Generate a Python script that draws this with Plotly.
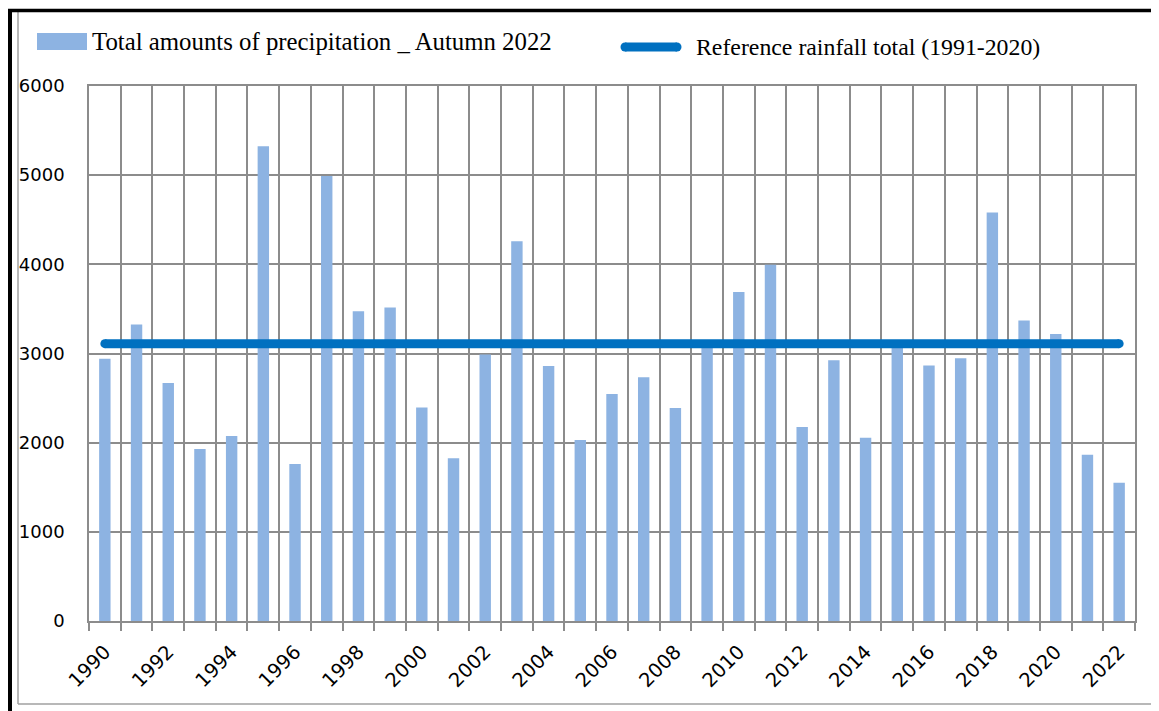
import plotly.graph_objects as go

years = list(range(1990, 2023))
precip = [2940, 3325, 2670, 1930, 2075, 5325, 1760, 4990, 3475, 3515,
          2395, 1825, 2990, 4260, 2860, 2030, 2545, 2735, 2390, 3100,
          3690, 3995, 2175, 2925, 2055, 3100, 2865, 2948, 4580, 3370,
          3220, 1865, 1550]
reference_total = 3110
year_ticks = list(range(1990, 2023, 2))
y_ticks = [0, 1000, 2000, 3000, 4000, 5000, 6000]

bar_name = "Total amounts of precipitation _ Autumn 2022"
line_name = "Reference rainfall total (1991-2020)"

# page body has an 8px margin; work in screen pixels and convert
OFF = 8
W, H = 1159 - OFF, 711 - OFF
PL, PR, PT, PB = 89, 1135, 86, 621   # plot area in screen pixels
L, T = PL - OFF, PT - OFF
R = W - (PR - OFF)
B = H - (PB - OFF)
PW, PH = PR - PL, PB - PT

def px(x):
    return (x - PL) / PW

def py(y):
    return (PB - y) / PH

BAR_COLOR = "#8DB3E2"
LINE_COLOR = "#0070C0"
GRID = "#8c8c8c"

fig = go.Figure()
fig.add_trace(go.Bar(x=years, y=precip, name=bar_name, marker_color=BAR_COLOR,
                     marker_line_width=0, showlegend=False))
fig.add_trace(go.Scatter(x=[years[0], years[-1]], y=[reference_total, reference_total],
                         mode="lines+markers", name=line_name,
                         line=dict(color=LINE_COLOR, width=9),
                         marker=dict(color=LINE_COLOR, size=9, line_width=0),
                         showlegend=False))

shapes = []
# outer frame
shapes.append(dict(type="line", xref="paper", yref="paper", x0=px(18), x1=px(18), y0=py(12), y1=py(704),
                   line=dict(color="#a0a0a0", width=1.5), layer="below"))
shapes.append(dict(type="line", xref="paper", yref="paper", x0=px(18), x1=px(1160), y0=py(704), y1=py(704),
                   line=dict(color="#a0a0a0", width=1.5), layer="below"))
shapes.append(dict(type="line", xref="paper", yref="paper", x0=px(9.5), x1=px(9.5), y0=py(9), y1=py(712),
                   line=dict(color="black", width=5), layer="above"))
shapes.append(dict(type="line", xref="paper", yref="paper", x0=px(7), x1=px(1160), y0=py(10.5), y1=py(10.5),
                   line=dict(color="black", width=3.5), layer="above"))
# legend swatch 1
shapes.append(dict(type="rect", xref="paper", yref="paper", x0=px(37), x1=px(87), y0=py(33), y1=py(50),
                   fillcolor=BAR_COLOR, line_width=0))
# legend swatch 2 (line with round ends)
ly = 47
shapes.append(dict(type="line", xref="paper", yref="paper", x0=px(625), x1=px(677), y0=py(ly), y1=py(ly),
                   line=dict(color=LINE_COLOR, width=9)))
for cx in (625, 677):
    shapes.append(dict(type="circle", xref="paper", yref="paper", x0=px(cx - 4.5), x1=px(cx + 4.5),
                       y0=py(ly - 4.5), y1=py(ly + 4.5), fillcolor=LINE_COLOR, line_width=0))

annotations = [
    dict(text=bar_name, xref="paper", yref="paper", x=px(90), y=py(42), xanchor="left", yanchor="middle",
         showarrow=False, font=dict(family="Liberation Serif", size=24.8, color="black")),
    dict(text=line_name, xref="paper", yref="paper", x=px(694), y=py(47), xanchor="left", yanchor="middle",
         showarrow=False, font=dict(family="Liberation Serif", size=23.8, color="black")),
]

fig.update_layout(
    width=W, height=H,
    margin=dict(l=L, r=R, t=T, b=B, autoexpand=False),
    paper_bgcolor="white", plot_bgcolor="white",
    bargap=0.64,
    shapes=shapes, annotations=annotations,
    showlegend=False,
    font=dict(family="DejaVu Sans", size=16, color="black"),
)
fig.update_xaxes(
    range=[years[0] - 0.5, years[-1] + 0.5],
    tickmode="array", tickvals=year_ticks, ticktext=[str(v) for v in year_ticks],
    tickangle=-45, ticks="outside", ticklen=10, tickcolor="rgba(0,0,0,0)",
    showgrid=False, zeroline=False,
    showline=True, linecolor=GRID, linewidth=1.5, mirror=True,
    minor=dict(tickmode="array", tickvals=[v - 0.5 for v in years] + [years[-1] + 0.5],
               ticks="outside", ticklen=8, tickcolor=GRID, tickwidth=1.5,
               showgrid=True, gridcolor=GRID, gridwidth=1.5),
    tickfont=dict(family="DejaVu Sans", size=19.5),
)
fig.update_yaxes(
    range=[0, 6000], tickmode="array", tickvals=y_ticks,
    showgrid=True, gridcolor=GRID, gridwidth=1.5, zeroline=False,
    showline=True, linecolor=GRID, linewidth=1.5, mirror=True,
    ticks="", ticklabelstandoff=19,
    tickfont=dict(family="DejaVu Sans", size=18),
)

fig.write_html("out.html")
